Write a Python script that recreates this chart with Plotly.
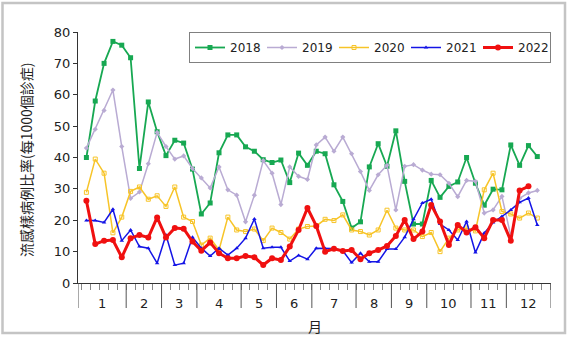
import plotly.graph_objects as go

y2018 = [40, 58, 70, 77, 75.8, 71.8, 36.5, 57.7, 48.2, 40.6, 45.5, 44.6, 36.3, 22, 25.5, 41.5,
         47.2, 47.2, 43.4, 42, 39.3, 38.4, 39.2, 32, 41.4, 37.5, 42, 41.2, 31.3, 26, 17.5, 19.5,
         37, 44.4, 37.2, 48.5, 32.4, 18.8, 18.8, 32.7, 27.3, 30.8, 32.2, 40, 31.8, 24.8, 29.9,
         29.7, 44, 37.5, 43.8, 40.3]
y2019 = [43, 49, 55, 61.5, 43.5, 27, 29, 38, 48, 43.5, 39.5, 40.5, 36.5, 33.5, 30.3, 37, 29.7,
         28, 19.5, 28, 39, 35, 25, 37, 34, 33, 44, 46.5, 42, 46.5, 41.2, 35.5, 29.5, 34.5, 37.5,
         23.3, 37.2, 37.7, 36, 34.7, 34.5, 31.8, 27.5, 32.7, 32.4, 22.3, 23.3, 27.6, 15, 27,
         28.7, 29.5]
y2020 = [28.9, 39.5, 35, 16, 21, 29.2, 30.6, 26.7, 27.8, 24.4, 30.6, 21, 19.6, 12.1, 14.3, 10.5,
         21, 16.9, 16.4, 17.2, 13.5, 17.5, 16.1, 14, 17.2, 18, 18.2, 20.3, 19.9, 21.7, 16.9, 16.4,
         15.3, 16.9, 23.2, 17.5, 16.9, 16.9, 14.8, 16.1, 10, 14.3, 16.9, 17.5, 16.6, 29.7, 35,
         22.8, 22, 20.7, 22.3, 20.7]
y2021 = [19.9, 19.9, 19.3, 23.5, 13.5, 16.9, 11.6, 11.1, 6.3, 15.3, 5.7, 6.3, 14.6, 11.1, 8.6,
         11.1, 8.9, 11.1, 14.3, 20.4, 11.1, 11.4, 11.4, 7, 8.8, 7.6, 11.1, 11, 11, 10.3, 6.5, 9.5,
         6.8, 6.8, 10.8, 10.8, 14.6, 20.3, 25.5, 26.7, 18.8, 16.9, 13.7, 19.6, 9.7, 15.9, 19.3,
         21.2, 23.3, 25.7, 27.1, 18.5]
y2022 = [26.2, 12.4, 13.5, 13.7, 8.2, 14.3, 15.3, 14.5, 20.9, 14.5, 17.5, 17.3, 13.2, 10.3, 12.9,
         9.5, 7.9, 7.9, 8.6, 8.2, 5.75, 7.9, 7.3, 11.6, 16.9, 23.9, 18.2, 10, 10.9, 10.2, 10.5,
         7.6, 9.5, 10.5, 11.8, 15, 20.1, 14, 16.4, 24.9, 19.6, 12.1, 18.5, 16.1, 17.8, 14.3, 20.1,
         20.1, 13.5, 29.5, 30.8]

months = ["1", "2", "3", "4", "5", "6", "7", "8", "9", "10", "11", "12"]
month_bounds = [0.05, 5.5, 9.5, 13.5, 18.5, 22.5, 26.5, 31.5, 35.5, 39.5, 44.5, 48.5, 53.55]
y_ticks = [0, 10, 20, 30, 40, 50, 60, 70, 80]

series = [
    ("2018", y2018, "#17a852", "square", 5, 1.8),
    ("2019", y2019, "#b9abd3", "diamond", 4, 1.5),
    ("2020", y2020, "#f7c428", "square-open", 4, 1.5),
    ("2021", y2021, "#1414e6", "triangle-up", 4, 1.5),
    ("2022", y2022, "#f01010", "circle", 6, 3),
]

W, H = 569, 341
L, R, T, B = 78, 18, 32, 58
pw, ph = W - L - R, H - T - B


def px_to_paper_y(py):
    return (H - B - py) / ph


def px_to_paper_x(px):
    return (px - L) / pw


fig = go.Figure()
for name, ys, col, sym, ms, lw in series:
    fig.add_trace(go.Scatter(
        x=list(range(1, len(ys) + 1)), y=ys, name=name, mode="lines+markers",
        line=dict(color=col, width=lw), marker=dict(symbol=sym, size=ms, color=col,
                                                     line=dict(width=1 if sym.endswith("open") else 0, color=col)),
    ))

# week dots below the axis
dot_x = list(range(1, 54))
fig.add_trace(go.Scatter(x=dot_x, y=[-5.0 / (ph / 80)] * len(dot_x), mode="markers",
                         marker=dict(size=1.6, color="#777777"), showlegend=False,
                         cliponaxis=False, hoverinfo="skip"))

shapes = []
for b in month_bounds:
    shapes.append(dict(type="line", xref="x", yref="paper", x0=b, x1=b,
                       y0=0, y1=px_to_paper_y(H - B + 25), line=dict(color="#555555", width=1)))
# frame
shapes.append(dict(type="rect", xref="paper", yref="paper",
                   x0=px_to_paper_x(2.5), x1=px_to_paper_x(565), y0=px_to_paper_y(333),
                   y1=px_to_paper_y(3), line=dict(color="#c4c4c4", width=2.5)))

annotations = []
for i, m in enumerate(months):
    c = (month_bounds[i] + month_bounds[i + 1]) / 2
    annotations.append(dict(x=c, y=px_to_paper_y(H - B + 20), xref="x", yref="paper", text=m,
                            showarrow=False, font=dict(family="DejaVu Sans", size=13, color="#222"),
                            yanchor="middle"))
annotations.append(dict(x=26.9, y=px_to_paper_y(326), xref="x", yref="paper", text="月",
                        showarrow=False, font=dict(family="Noto Sans CJK TC", size=14, color="#222"),
                        yanchor="middle"))
annotations.append(dict(x=px_to_paper_x(26), y=px_to_paper_y(160), xref="paper", yref="paper",
                        text="流感樣病例比率(每1000個診症)", textangle=-90, showarrow=False,
                        font=dict(family="Noto Sans CJK TC", size=14, color="#222"),
                        xanchor="center", yanchor="middle"))

fig.update_layout(
    width=W, height=H, margin=dict(l=L, r=R, t=T, b=B),
    paper_bgcolor="white", plot_bgcolor="white",
    font=dict(family="DejaVu Sans", size=12, color="#222"),
    shapes=shapes, annotations=annotations,
    legend=dict(orientation="h", x=1, xanchor="right", y=1.0, yanchor="top",
                bordercolor="#808080", borderwidth=1, bgcolor="white",
                font=dict(family="DejaVu Sans", size=12, color="#222"),
                entrywidth=27, entrywidthmode="pixels", itemwidth=30,
                tracegroupgap=0),
    showlegend=True,
)
fig.update_xaxes(range=[month_bounds[0], month_bounds[-1]], showgrid=False, zeroline=False,
                 showline=True, linecolor="#333", linewidth=1,
                 tickvals=[k + 0.5 for k in range(0, 54)], ticktext=[""] * 54,
                 ticks="outside", ticklen=6, tickcolor="#888", tickwidth=1)
fig.update_yaxes(range=[0, 80], showgrid=False, zeroline=False, showline=True, linecolor="#333",
                 linewidth=1, tickvals=y_ticks, ticks="outside", ticklen=4, tickcolor="#333",
                 tickfont=dict(family="DejaVu Sans", size=13, color="#222"))

fig.write_html("out.html")
